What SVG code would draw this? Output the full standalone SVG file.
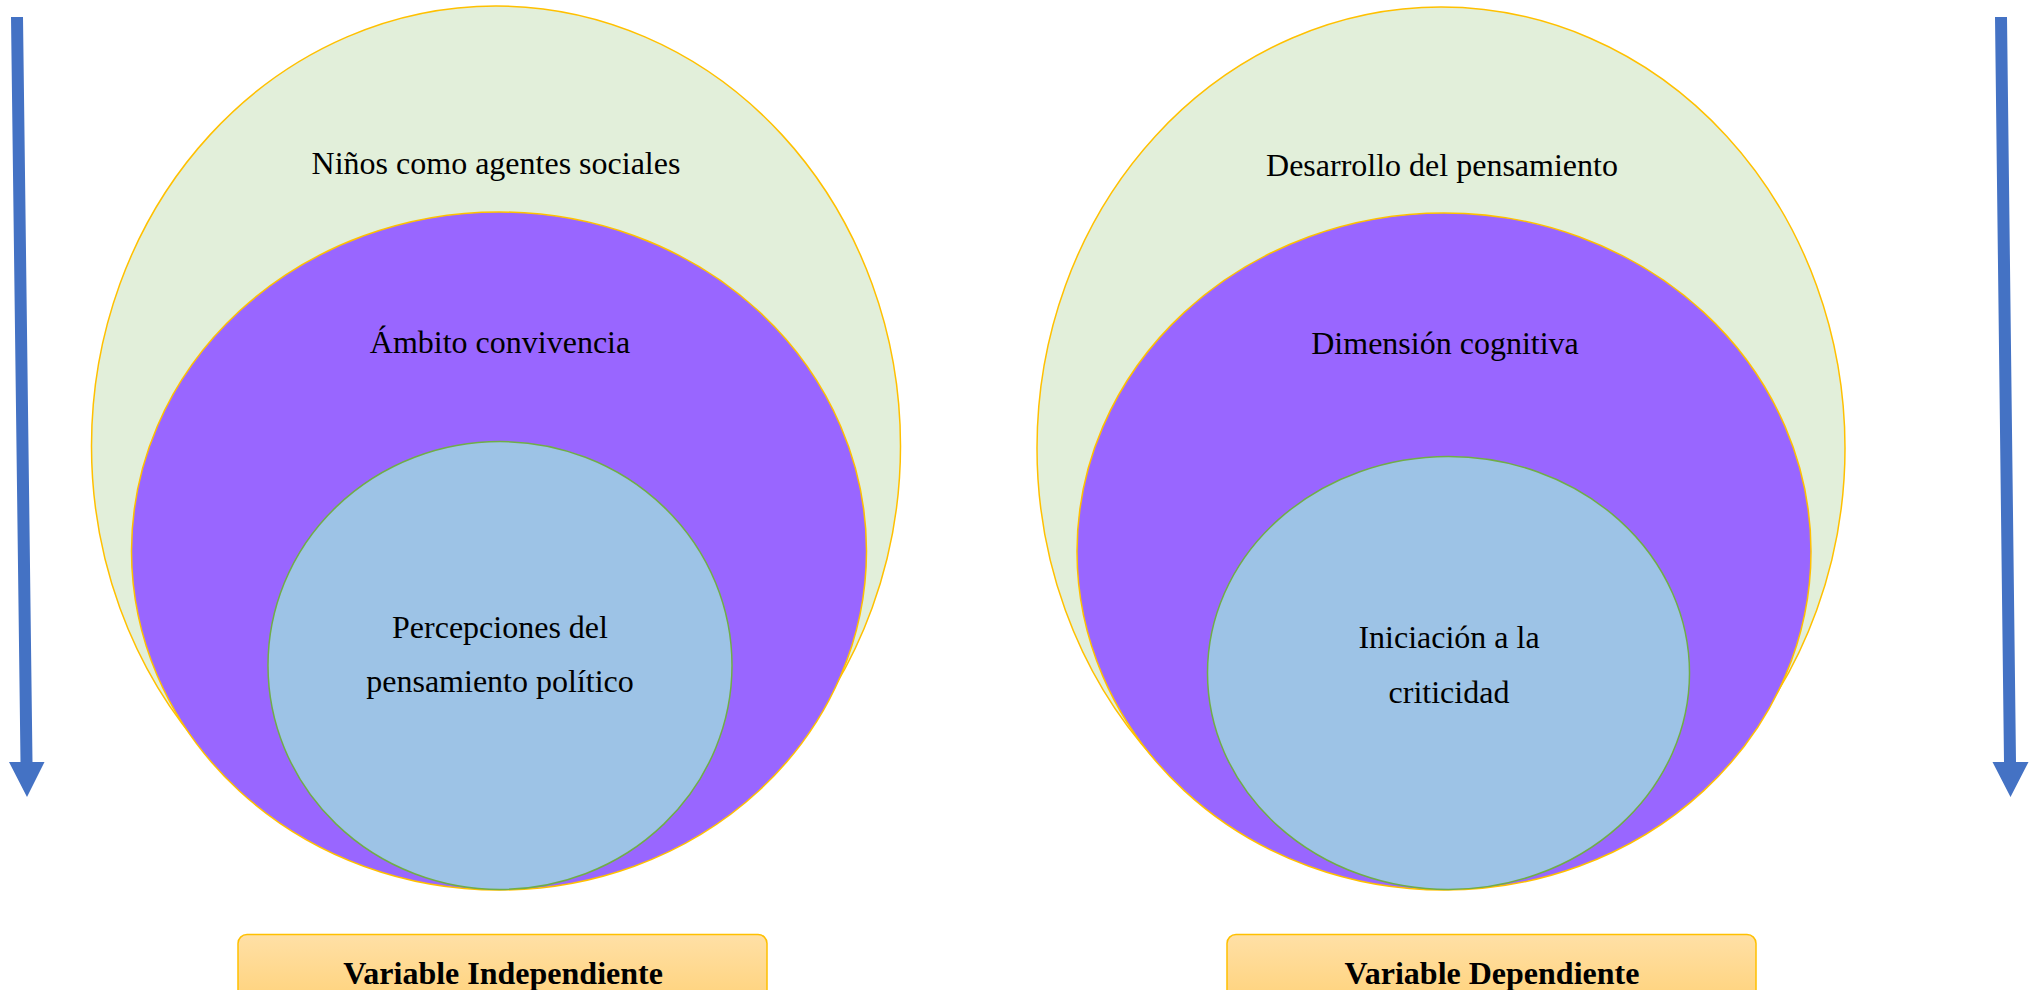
<svg xmlns="http://www.w3.org/2000/svg" width="2040" height="990" viewBox="0 0 2040 990">
<defs>
<style>
.outer{fill:#E2EFDA;stroke:#FFC000;stroke-width:1.5}
.mid{fill:#9966FF;stroke:#FFC000;stroke-width:1.5}
.inner{fill:#9DC3E6;stroke:#70AD47;stroke-width:1.5}
.lbl{font-family:"Liberation Serif","Times New Roman",serif;font-size:32px;fill:#000;text-anchor:middle}
.box{fill:url(#g);stroke:#FFC000;stroke-width:1.5}
.blbl{font-family:"Liberation Serif","Times New Roman",serif;font-size:32px;font-weight:bold;fill:#000;text-anchor:middle}
.arr{fill:#4472C4}
</style>
<linearGradient id="g" x1="0" y1="0" x2="0" y2="1">
<stop offset="0" stop-color="#FFE0A6"/>
<stop offset="1" stop-color="#FFD27A"/>
</linearGradient>
</defs>
<rect width="2040" height="990" fill="#FFFFFF"/>
<g id="connectors">
<polygon class="arr" points="11,17 23,17 32.5,762 44.5,762 27,797 9,762 20.5,762"/>
<polygon class="arr" points="1995,17 2007,17 2016,762 2028.5,762 2010.5,797 1992.5,762 2004,762"/>
</g>
<g id="left-outer">
<ellipse class="outer" cx="496" cy="446" rx="404.5" ry="440"/>
<text class="lbl" x="496" y="174">Niños como agentes sociales</text>
</g>
<g id="left-mid">
<ellipse class="mid" cx="499" cy="551" rx="367.5" ry="339"/>
<text class="lbl" x="500" y="353">Ámbito convivencia</text>
</g>
<g id="left-inner">
<ellipse class="inner" cx="500" cy="665.5" rx="232" ry="224"/>
<text class="lbl" x="500" y="638">Percepciones del</text>
<text class="lbl" x="500" y="692">pensamiento político</text>
</g>
<g id="right-outer">
<ellipse class="outer" cx="1441" cy="448" rx="404" ry="441"/>
<text class="lbl" x="1442" y="176">Desarrollo del pensamiento</text>
</g>
<g id="right-mid">
<ellipse class="mid" cx="1444" cy="551.5" rx="367" ry="338.5"/>
<text class="lbl" x="1445" y="354">Dimensión cognitiva</text>
</g>
<g id="right-inner">
<ellipse class="inner" cx="1448.5" cy="673" rx="241" ry="216.5"/>
<text class="lbl" x="1449" y="648">Iniciación a la</text>
<text class="lbl" x="1449" y="703">criticidad</text>
</g>
<g id="box-independiente">
<rect class="box" x="238" y="934.5" width="529" height="70" rx="9"/>
<text class="blbl" x="503" y="984">Variable Independiente</text>
</g>
<g id="box-dependiente">
<rect class="box" x="1227" y="934.5" width="529" height="70" rx="9"/>
<text class="blbl" x="1492" y="984">Variable Dependiente</text>
</g>
</svg>
